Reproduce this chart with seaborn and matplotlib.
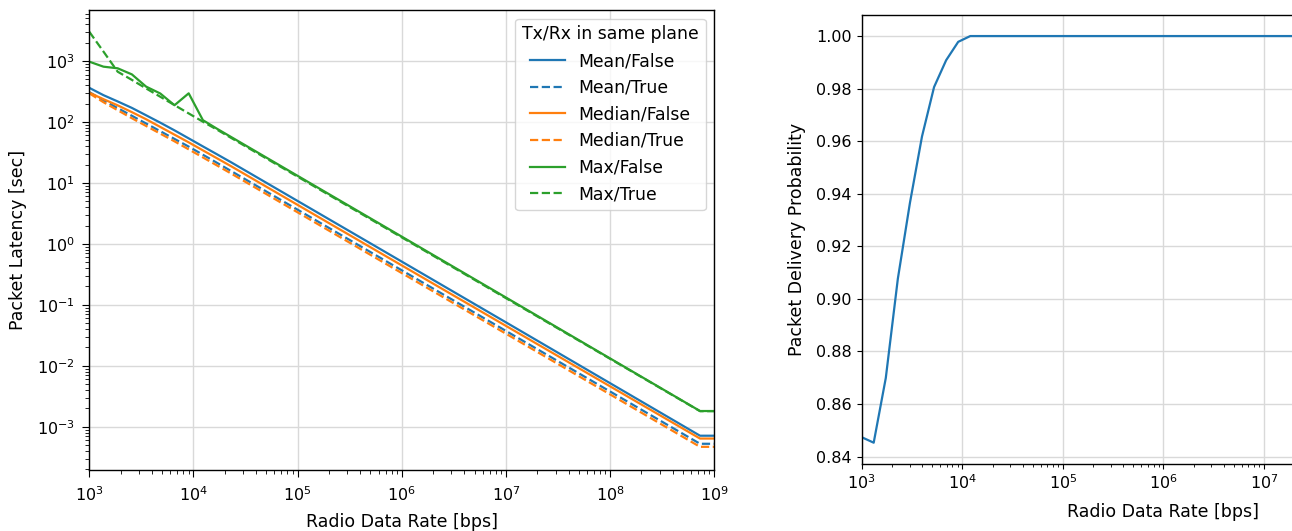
import matplotlib
matplotlib.use("Agg")
import matplotlib.pyplot as plt
import numpy as np
import pandas as pd
import seaborn as sns

# Radio data rates [bps] at which latency was evaluated
rates = [1000, 1369, 1874, 2565, 3511, 4806, 6579, 9006, 12328, 16876,
         23101, 533670, 12328467, 730402154, 1000000000]

# Packet latency [sec] per statistic / same-plane flag
mean_false = [363, 275, 217, 170, 128.7, 97.3, 72.8, 53.8, 39.7, 29.4,
              21.7, 0.957, 0.0419, 7.12e-4, 7.12e-4]
mean_true = [309, 225.8, 168.8, 126.2, 94.3, 70.5, 52.7, 39.4, 29.0, 21.3,
             15.6, 0.688, 0.0303, 5.25e-4, 5.25e-4]
median_false = [302, 236.4, 187.2, 144.8, 110.8, 82.8, 61.9, 46.3, 34.2, 25.3,
                18.7, 0.827, 0.0367, 6.40e-4, 6.40e-4]
median_true = [295, 210.7, 155.7, 115.1, 86.0, 64.3, 48.1, 35.5, 26.2, 19.3,
               14.2, 0.620, 0.0273, 4.68e-4, 4.68e-4]
max_false = [975, 807, 759, 603, 380, 293, 188, 295, 107, 77.2,
             56.4, 2.46, 0.107, 1.81e-3, 1.81e-3]
max_true = [3020, 1426, 667, 490, 355, 259, 189, 138, 101, 74.6,
            54.5, 2.39, 0.1045, 1.80e-3, 1.80e-3]

series_labels = ["Mean/False", "Mean/True", "Median/False", "Median/True",
                 "Max/False", "Max/True"]
series_values = [mean_false, mean_true, median_false, median_true,
                 max_false, max_true]

# Packet delivery probability vs data rate
pdp_rates = [1000, 1318, 1738, 2291, 3020, 3981, 5248, 6918, 9120, 12023,
             1000000000]
pdp = [0.8474, 0.8453, 0.8699, 0.9077, 0.9365, 0.9618, 0.9806, 0.9908,
       0.9978, 1.0, 1.0]

# Tick positions
latency_xticks = [1e3, 1e4, 1e5, 1e6, 1e7, 1e8, 1e9]
latency_yticks = [1e-3, 1e-2, 1e-1, 1e0, 1e1, 1e2, 1e3]
pdp_xticks = [1e3, 1e4, 1e5, 1e6, 1e7]
pdp_yticks = [0.84, 0.86, 0.88, 0.90, 0.92, 0.94, 0.96, 0.98, 1.00]

latency = pd.DataFrame({
    "rate": np.tile(rates, len(series_labels)),
    "latency": np.concatenate(series_values),
    "series": np.repeat(series_labels, len(rates)),
})
delivery = pd.DataFrame({"rate": pdp_rates, "pdp": pdp})

blue, orange, green = "#1f77b4", "#ff7f0e", "#2ca02c"
palette = {"Mean/False": blue, "Mean/True": blue,
           "Median/False": orange, "Median/True": orange,
           "Max/False": green, "Max/True": green}
dash = (3.7, 1.6)
dashes = {"Mean/False": "", "Mean/True": dash,
          "Median/False": "", "Median/True": dash,
          "Max/False": "", "Max/True": dash}

plt.rcParams.update({
    "font.size": 12,
    "xtick.labelsize": 11.5,
    "ytick.labelsize": 11.5,
    "axes.labelsize": 12.5,
    "axes.linewidth": 1.0,
})

fig = plt.figure(figsize=(12.92, 5.31), dpi=100)
ax1 = fig.add_axes([0.0691, 0.1143, 0.4837, 0.8669])
# the delivery panel spans six decades; the figure ends past 10^7
ax2 = fig.add_axes([0.6669, 0.1267, 0.4672, 0.845])

grid_kw = dict(color="#d9d9d9", linewidth=1.0)
lw = 1.6

# Left: latency vs data rate
sns.lineplot(data=latency, x="rate", y="latency", hue="series", style="series",
             hue_order=series_labels, style_order=series_labels,
             palette=palette, dashes=dashes, linewidth=lw,
             estimator=None, ax=ax1)
ax1.set_xscale("log")
ax1.set_yscale("log")
ax1.set_xticks(latency_xticks)
ax1.set_yticks(latency_yticks)
ax1.set_xlim(1e3, 1e9)
ax1.set_ylim(10 ** -3.715, 10 ** 3.837)
ax1.tick_params(which="major", length=5, pad=5.5)
ax1.tick_params(which="minor", length=3)
ax1.set_xlabel("Radio Data Rate [bps]", labelpad=7)
ax1.set_ylabel("Packet Latency [sec]", labelpad=7)
ax1.grid(True, which="major", **grid_kw)
sns.move_legend(ax1, "upper right", title="Tx/Rx in same plane",
                fontsize=12.4, title_fontsize=12.4)

# Right: delivery probability vs data rate
sns.lineplot(data=delivery, x="rate", y="pdp", color=blue, linewidth=lw,
             estimator=None, ax=ax2)
ax2.set_xscale("log")
ax2.set_xticks(pdp_xticks)
ax2.set_yticks(pdp_yticks)
ax2.set_xlim(1e3, 1e9)
ax2.set_ylim(0.8373, 1.008)
ax2.set_xlabel("Radio Data Rate [bps]", labelpad=8)
ax2.set_ylabel("Packet Delivery Probability", labelpad=7)
ax2.grid(True, which="major", **grid_kw)

fig.savefig("out.png", dpi=100)
